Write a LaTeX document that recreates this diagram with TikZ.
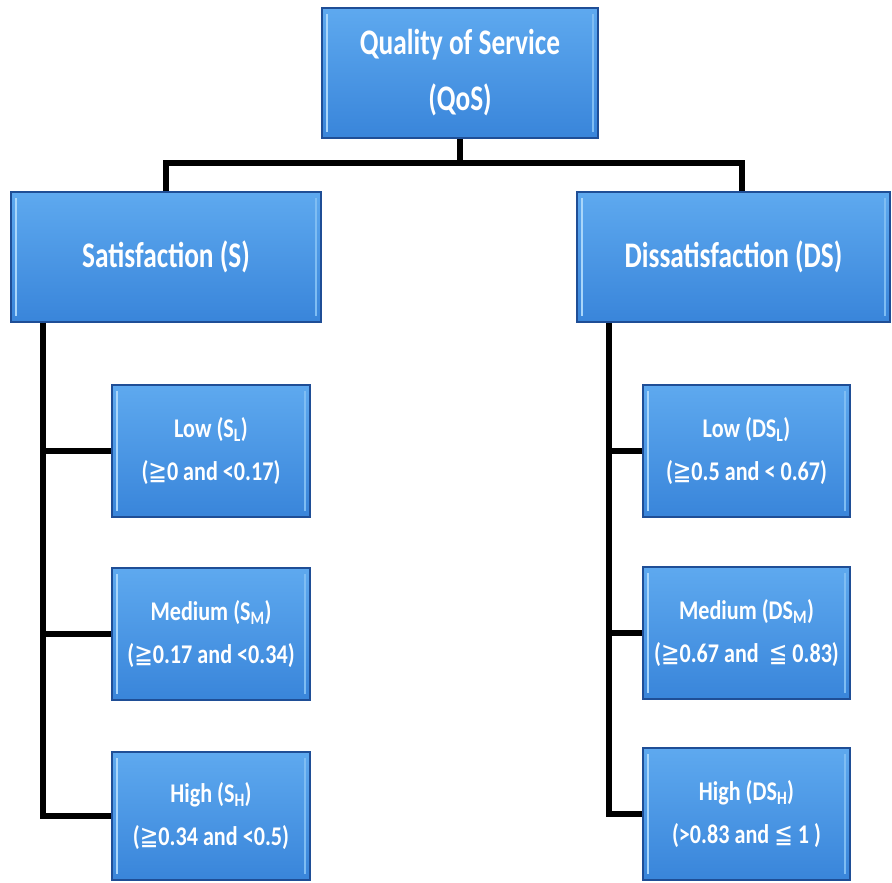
\documentclass[tikz,border=0pt]{standalone}
\usepackage{fontspec}
\usepackage{graphicx}
\setmainfont{Carlito}
\newfontfamily\symf{DejaVu Sans}
\usetikzlibrary{calc}
\definecolor{boxtop}{HTML}{5EA9EF}
\definecolor{boxbot}{HTML}{3985DA}
\definecolor{boxedge}{HTML}{1F4E96}
\definecolor{bevlight}{HTML}{A9D6FA}
\definecolor{bevmid}{HTML}{7FBDF3}
\newcommand{\geqq}{{\symf\mdseries\char"2267}}
\newcommand{\leqq}{{\symf\mdseries\char"2266}}
\newcommand{\bx}[1]{\scalebox{0.76}[1]{#1}}
\newcommand{\sx}[1]{\scalebox{0.82}[1]{#1}}
\begin{document}
\begin{tikzpicture}[x=1pt,y=1pt,
  qbox/.style={draw=boxedge, line width=1.5pt, top color=boxtop, bottom color=boxbot,
    text=white, align=center, inner sep=0pt,
    path picture={
      \draw[bevlight, line width=2.5pt]
        ([xshift=5pt,yshift=-6pt]path picture bounding box.north west) --
        ([xshift=5pt,yshift=6pt]path picture bounding box.south west);
      \draw[bevmid, line width=2.5pt]
        ([xshift=-5pt,yshift=-6pt]path picture bounding box.north east) --
        ([xshift=-5pt,yshift=6pt]path picture bounding box.south east);
    }},
  bigtxt/.style={font=\fontsize{36}{56}\selectfont\bfseries},
  smalltxt/.style={font=\fontsize{27}{43}\selectfont\bfseries},
  conn/.style={draw=black, line width=6pt, line join=miter}
]
\useasboundingbox (0,0) rectangle (892,-883);

\node[qbox, bigtxt, minimum width=276pt, minimum height=130pt] (Q) at (460,-73)
  {\bx{Quality of Service}\\\bx{(QoS)}};
\node[qbox, bigtxt, minimum width=310pt, minimum height=130pt] (S) at (166,-257)
  {\bx{Satisfaction (S)}};
\node[qbox, bigtxt, minimum width=313pt, minimum height=130pt] (DS) at (733.5,-257)
  {\bx{Dissatisfaction (DS)}};

\node[qbox, smalltxt, minimum width=198pt, minimum height=132pt] (SL) at (211,-451)
  {\sx{Low (S\textsubscript{L})}\\\sx{(\geqq0 and <0.17)}};
\node[qbox, smalltxt, minimum width=198pt, minimum height=132pt] (SM) at (211,-634)
  {\sx{Medium (S\textsubscript{M})}\\\sx{(\geqq0.17 and <0.34)}};
\node[qbox, smalltxt, minimum width=198pt, minimum height=128pt] (SH) at (211,-816)
  {\sx{High (S\textsubscript{H})}\\\sx{(\geqq0.34 and <0.5)}};

\node[qbox, smalltxt, minimum width=207pt, minimum height=132pt] (DL) at (746.5,-451)
  {\sx{Low (DS\textsubscript{L})}\\\sx{(\geqq0.5 and < 0.67)}};
\node[qbox, smalltxt, minimum width=207pt, minimum height=132pt] (DM) at (746.5,-633)
  {\sx{Medium (DS\textsubscript{M})}\\\sx{(\geqq0.67 and \ \leqq{} 0.83)}};
\node[qbox, smalltxt, minimum width=207pt, minimum height=132pt] (DH) at (746.5,-814)
  {\sx{High (DS\textsubscript{H})}\\\sx{(>0.83 and \leqq{} 1 )}};

\coordinate (bar) at (0,-163);
\coordinate (lv) at (43,0);
\coordinate (rv) at (609,0);
\coordinate (dsdrop) at (742,0);

\draw[conn] (Q.south) -- (Q.south |- bar);
\draw[conn] (S.north) -- (S.north |- bar) -- (dsdrop |- bar) -- (dsdrop |- DS.north);

\draw[conn] (S.south -| lv) |- (SH.west);
\draw[conn] (SL.west) -- (SL.west -| lv);
\draw[conn] (SM.west) -- (SM.west -| lv);

\draw[conn] (DS.south -| rv) |- (DH.west);
\draw[conn] (DL.west) -- (DL.west -| rv);
\draw[conn] (DM.west) -- (DM.west -| rv);
\end{tikzpicture}
\end{document}
